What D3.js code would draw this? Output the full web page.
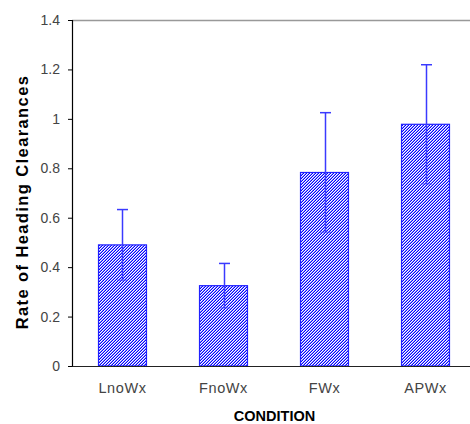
<!DOCTYPE html>
<html><head><meta charset="utf-8">
<script src="https://cdn.jsdelivr.net/npm/d3@7"></script>
<style>body{margin:0;background:#fff}svg{display:block}</style>
</head><body>
<svg id="c" width="470" height="424"></svg>
<script>
const categories = ["LnoWx", "FnoWx", "FWx", "APWx"];
const values = [0.49, 0.325, 0.783, 0.978];
const errors = [0.143, 0.09, 0.242, 0.241];
const yTicks = [0, 0.2, 0.4, 0.6, 0.8, 1, 1.2, 1.4];
const yLabel = "Rate of Heading Clearances";
const xLabel = "CONDITION";

(function () {
const svg = d3.select("#c");
const mL = 72, mR = 476, mT = 20, mB = 366;
const font = "Liberation Sans, Arial, sans-serif";
const x = d3.scaleBand().domain(categories).range([mL, mR]).paddingInner(0.525).paddingOuter(0.2625);
const y = d3.scaleLinear().domain([0, 1.4]).range([mB, mT]);

const defs = svg.append("defs");
const pat = defs.append("pattern").attr("id", "hatch").attr("patternUnits", "userSpaceOnUse")
  .attr("width", 3).attr("height", 3);
pat.append("rect").attr("width", 3).attr("height", 3).attr("fill", "#ffffff");
for (let px = 0; px < 3; px++) for (let py = 0; py < 3; py++) {
  const m = (px + py) % 3;
  if (m === 2) pat.append("rect").attr("x", px).attr("y", py).attr("width", 1).attr("height", 1).attr("fill", "#0000ff");
  if (m === 1) pat.append("rect").attr("x", px).attr("y", py).attr("width", 1).attr("height", 1).attr("fill", "#8c8cff");
}

svg.append("line").attr("x1", mL).attr("x2", 470).attr("y1", mT + 0.5).attr("y2", mT + 0.5)
  .attr("stroke", "#999").attr("stroke-width", 1.5);

svg.selectAll("rect.bar").data(categories).join("rect").attr("class", "bar")
  .attr("x", d => x(d)).attr("width", x.bandwidth())
  .attr("y", (d, i) => y(values[i])).attr("height", (d, i) => y(0) - y(values[i]))
  .attr("fill", "url(#hatch)").attr("stroke", "#2020ff").attr("stroke-width", 1.2);

const eb = svg.append("g").attr("stroke", "#3a3aff").attr("stroke-width", 1.5);
categories.forEach((c, i) => {
  const cx = Math.round(x(c) + x.bandwidth() / 2) + 0.5;
  const y1 = y(values[i] + errors[i]), y0 = y(values[i] - errors[i]);
  eb.append("line").attr("x1", cx).attr("x2", cx).attr("y1", y1).attr("y2", y0);
  eb.append("line").attr("x1", cx - 5.5).attr("x2", cx + 5.5).attr("y1", y1).attr("y2", y1);
  eb.append("line").attr("x1", cx - 5.5).attr("x2", cx + 5.5).attr("y1", y0).attr("y2", y0).attr("stroke-opacity", 0.5);
});

const ya = svg.append("g").attr("transform", `translate(${mL},0)`)
  .call(d3.axisLeft(y).tickValues(yTicks).tickSize(4).tickPadding(8).tickFormat(d => String(+d.toFixed(1))));
ya.select(".domain").attr("stroke", "#000").attr("stroke-width", 1.2);
ya.selectAll(".tick line").attr("stroke", "#000");
ya.selectAll("text").attr("font-family", font).attr("font-size", 14).attr("fill", "#444");

const xa = svg.append("g").attr("transform", `translate(0,${mB})`)
  .call(d3.axisBottom(x).tickSize(0).tickPadding(14));
xa.select(".domain").attr("stroke", "#222").attr("stroke-width", 1.2);
xa.selectAll("text").attr("font-family", font).attr("font-size", 14.5).attr("fill", "#444")
  .attr("y", 27).attr("dy", 0).attr("letter-spacing", 0.6);

svg.append("text").attr("transform", "translate(28,202) rotate(-90)").attr("text-anchor", "middle")
  .attr("font-family", font).attr("font-weight", "bold").attr("font-size", 16.5).attr("fill", "#000")
  .attr("letter-spacing", 1.4)
  .text(yLabel);
svg.append("text").attr("x", 274.5).attr("y", 421).attr("text-anchor", "middle")
  .attr("font-family", font).attr("font-weight", "bold").attr("font-size", 14.5).attr("fill", "#000")
  .text(xLabel);
})();
</script>
</body></html>
